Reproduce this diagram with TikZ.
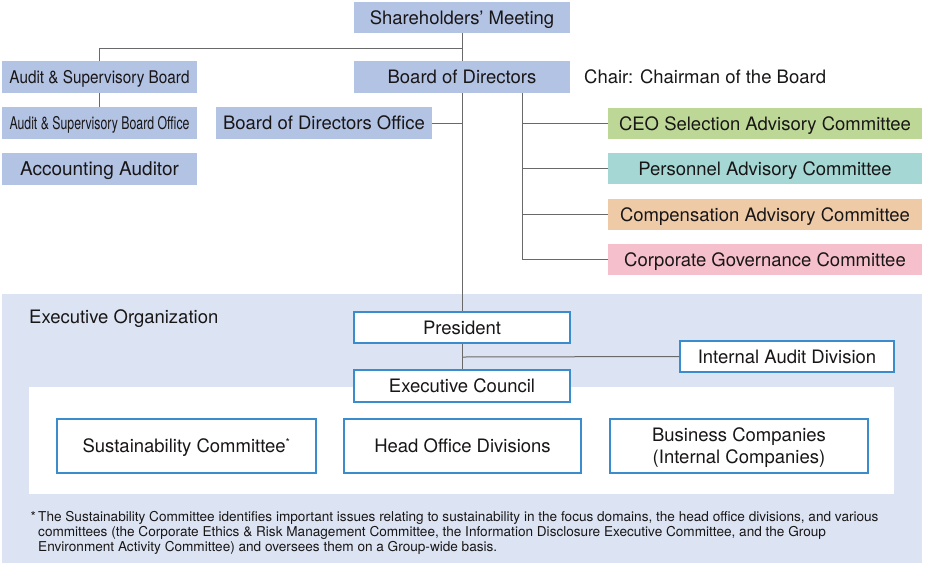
\documentclass[tikz,border=0pt]{standalone}
\usepackage{fontspec}
\setmainfont{TeX Gyre Heros}
\usepackage{graphicx}
\definecolor{boxblue}{RGB}{179,195,228}
\definecolor{execbg}{RGB}{220,228,243}
\definecolor{bord}{RGB}{58,140,205}
\definecolor{linegray}{RGB}{105,105,105}
\definecolor{txt}{RGB}{25,22,23}
\definecolor{ceogreen}{RGB}{189,216,150}
\definecolor{persteal}{RGB}{165,216,212}
\definecolor{compsand}{RGB}{238,203,166}
\definecolor{cgpink}{RGB}{245,192,203}
\begin{document}
\begin{tikzpicture}[x=1pt,y=-1pt,
  base/.style={rectangle, inner sep=0pt, text=txt, font=\fontsize{18.5}{22}\selectfont, text height=13.3pt, text depth=0pt},
  topbox/.style={base, fill=boxblue, minimum width=216pt, minimum height=31.5pt},
  leftbox/.style={base, fill=boxblue, minimum width=195pt, minimum height=32pt},
  combox/.style={base, minimum width=314pt, minimum height=31pt},
  exbox/.style={base, fill=white, draw=bord, line width=1.4pt},
  conn/.style={draw=linegray, line width=1pt},
  plain/.style={inner sep=0pt, text=txt, font=\fontsize{18.5}{22}\selectfont, text height=13.3pt, text depth=0pt}]
\useasboundingbox (0,0) rectangle (925,563);

% executive background
\fill[execbg] (2,294) rectangle (922,563);
\fill[white] (29,387) rectangle (894,494);

% top nodes
\node[topbox] (sm) at (462,17.5) {Shareholders’ Meeting};
\node[topbox] (bod) at (462,77) {Board of Directors};
\node[plain, anchor=west] (chair) at (584,77) {Chair: Chairman of the Board};
\node[leftbox, text height=12.4pt] (asb) at (99.5,77) {\fontsize{17.5}{20}\selectfont\resizebox{180pt}{\height}{Audit \& Supervisory Board}};
\node[leftbox, text height=12.4pt] (asbo) at (99.5,123) {\fontsize{17.5}{20}\selectfont\resizebox{180pt}{\height}{Audit \& Supervisory Board Office}};
\node[leftbox] (aa) at (99.5,169) {\fontsize{19}{22}\selectfont Accounting Auditor};
\node[topbox] (bodo) at (324,123) {Board of Directors Office};

\node[combox, fill=ceogreen] (ceo) at (765,123.5) {CEO Selection Advisory Committee};
\node[combox, fill=persteal] (pers) at (765,168.5) {Personnel Advisory Committee};
\node[combox, fill=compsand] (comp) at (765,214.5) {Compensation Advisory Committee};
\node[combox, fill=cgpink] (cg) at (765,259.5) {Corporate Governance Committee};

% executive organization
\node[plain, anchor=west] (eo) at (29,317) {Executive Organization};
\node[exbox, minimum width=216pt, minimum height=31pt] (pres) at (462,327.5) {President};
\node[exbox, minimum width=214pt, minimum height=31pt] (iad) at (787,356.5) {Internal Audit Division};
\node[exbox, minimum width=216pt, minimum height=32pt] (ec) at (462,386) {Executive Council};
\node[exbox, minimum width=259pt, minimum height=54pt] (sc) at (186.5,446) {Sustainability Committee\textsuperscript{\fontsize{11}{11}\selectfont *}};
\node[exbox, minimum width=237pt, minimum height=54pt] (hod) at (462.5,446) {Head Office Divisions};
\node[exbox, minimum width=258pt, minimum height=54pt] (bc) at (739,446) {};
\node[inner sep=0pt, text=txt, font=\fontsize{18.5}{22}\selectfont, align=center] (bct) at (739,448) {Business Companies\\(Internal Companies)};

% footnote
\node[anchor=north west, inner sep=0pt, align=left, text=txt, font=\fontsize{13.6}{15}\selectfont] (fn) at (38,511)
 {\llap{*\,}The Sustainability Committee identifies important issues relating to sustainability in the focus domains, the head office divisions, and various\\
 committees (the Corporate Ethics \& Risk Management Committee, the Information Disclosure Executive Committee, and the Group\\
 Environment Activity Committee) and oversees them on a Group-wide basis.};

% connectors
\coordinate (j1) at (462,48);
\coordinate (b2) at (522,93);
\coordinate (j2) at (462,357);
\draw[conn] (sm.south) -- (bod.north);
\draw[conn] (j1) -| (asb.north);
\draw[conn] (asb.south) -- (asbo.north);
\draw[conn] (bodo.east) -- (bodo.east -| bod.south);
\draw[conn] (bod.south) -- (pres.north);
\draw[conn] (b2) |- (cg.west);
\draw[conn] (b2 |- ceo.west) -- (ceo.west);
\draw[conn] (b2 |- pers.west) -- (pers.west);
\draw[conn] (b2 |- comp.west) -- (comp.west);
\draw[conn] (pres.south) -- (ec.north);
\draw[conn] (j2) -- (iad.west);
\end{tikzpicture}
\end{document}
